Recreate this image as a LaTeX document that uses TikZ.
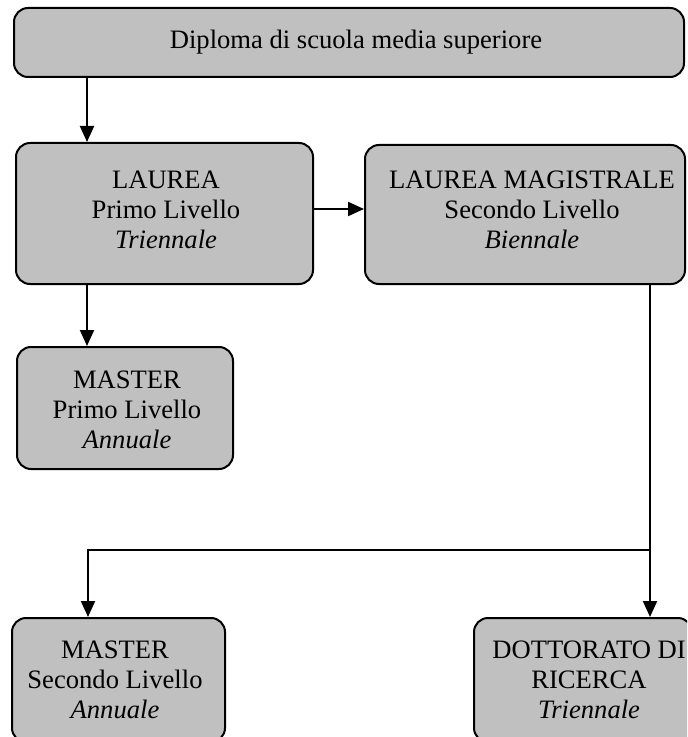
\documentclass[tikz,border=0pt]{standalone}
\usepackage{fontspec}
\setmainfont{Liberation Serif}
\usetikzlibrary{arrows.meta}
\definecolor{boxgray}{RGB}{192,192,192}
\tikzset{
	box/.style={draw, line width=1pt, fill=boxgray, rounded corners=7pt, inner sep=0pt},
	txt/.style={align=center, inner sep=0pt, font=\fontsize{13.3}{15}\selectfont},
	arr/.style={line width=1pt, -{Triangle[length=8pt,width=7pt]}},
	link/.style={line width=1pt}
}
\begin{document}
\begin{tikzpicture}[x=0.5pt, y=-0.5pt]
			
			\useasboundingbox (0,0) rectangle (687,737);
			\clip (0,0) rectangle (687,737);
			
			% Boxes
			\node[box, minimum width=335pt, minimum height=34.5pt] (diploma) at (349,42.5) {};
			\node[box, minimum width=148.5pt, minimum height=70.5pt] (laurea) at (164.5,213.5) {};
			\node[box, minimum width=160pt, minimum height=69.5pt] (magistrale) at (525,214.5) {};
			\node[box, minimum width=108pt, minimum height=61pt] (master1) at (125,408) {};
			\node[box, minimum width=106.5pt, minimum height=62pt] (master2) at (118.5,680) {};
			\node[box, minimum width=109pt, minimum height=62pt] (dottorato) at (583,680) {};
			
			% Texts
			\node[txt] (tdiploma) at (356,42) {Diploma di scuola media superiore};
			\node[txt] (tlaurea) at (166,210) {LAUREA\\Primo Livello\\\textit{Triennale}};
			\node[txt] (tmagistrale) at (532,210) {LAUREA MAGISTRALE\\Secondo Livello\\\textit{Biennale}};
			\node[txt] (tmaster1) at (127,410) {MASTER\\Primo Livello\\\textit{Annuale}};
			\node[txt] (tmaster2) at (115,680) {MASTER\\Secondo Livello\\\textit{Annuale}};
			\node[txt] (tdottorato) at (589,680) {DOTTORATO DI\\RICERCA\\\textit{Triennale}};
			
			% Guide points
			\coordinate (left) at (87,0);
			\coordinate (mid) at (0,209);
			\coordinate (split) at (650,550);
			\coordinate (down) at (88,0);
			
			% Arrows
			\draw[arr] (diploma.south -| left) -- (laurea.north -| left);
			\draw[arr] (laurea.east |- mid) -- (magistrale.west |- mid);
			\draw[arr] (laurea.south -| left) -- (master1.north -| left);
			\draw[link] (magistrale.south -| split) -- (split);
			\draw[arr] (split) -- (dottorato.north -| split);
			\draw[arr] (split) -- (split -| down) -- (master2.north -| down);
		\end{tikzpicture}
\end{document}
